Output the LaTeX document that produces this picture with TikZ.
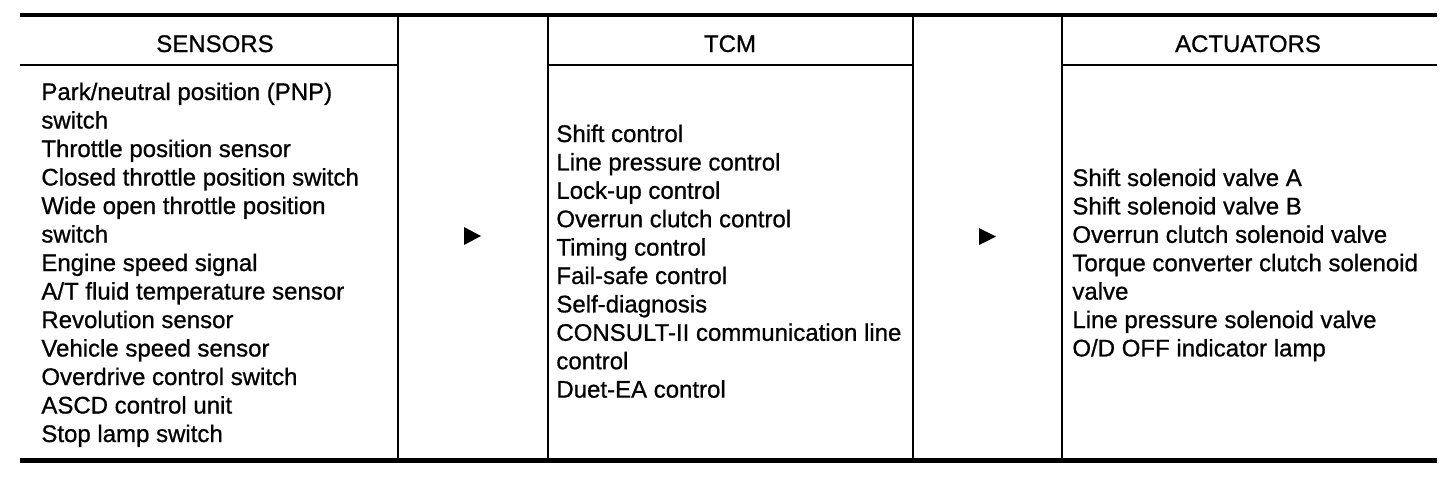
\documentclass[tikz,border=0pt]{standalone}
\usepackage{fontspec}
\setmainfont{Liberation Sans}
\newfontfamily\scanfont[FakeBold=0.8]{Liberation Sans}
\begin{document}
\begin{tikzpicture}[x=0.5pt,y=-0.5pt,
  heavyrule/.style={line width=2pt},
  bottomrule/.style={line width=2.5pt},
  thinrule/.style={line width=1.4pt},
  txt/.style={anchor=base west,inner sep=0pt,font=\scanfont\fontsize{12}{14.2}\selectfont},
  hdr/.style={anchor=base,inner sep=0pt,font=\scanfont\fontsize{12}{14.2}\selectfont},
  flowtri/.style={fill=black}]
\useasboundingbox (0,0) rectangle (1456,478);
% rules
\draw[heavyrule] (20,15) -- (1437,15);
\draw[bottomrule] (20,460) -- (1437,460);
\draw[thinrule] (20,65) -- (398,65) (548,65) -- (913,65) (1062,65) -- (1437,65);
\foreach \x in {398,548,913,1062} \draw[thinrule] (\x,15) -- (\x,460);
% headers
\node[hdr] (hsens) at (215,52) {SENSORS};
\node[hdr] (htcm) at (730,52) {TCM};
\node[hdr] (hact) at (1248,52) {ACTUATORS};
% sensors
\foreach \t [count=\i from 0] in {{Park/neutral position (PNP)},{switch},{Throttle position sensor},{Closed throttle position switch},{Wide open throttle position},{switch},{Engine speed signal},{A/T fluid temperature sensor},{Revolution sensor},{Vehicle speed sensor},{Overdrive control switch},{ASCD control unit},{Stop lamp switch}}
  \node[txt] (s\i) at (41,{100+28.5*\i}) {\t};
% TCM
\foreach \t [count=\i from 0] in {{Shift control},{Line pressure control},{Lock-up control},{Overrun clutch control},{Timing control},{Fail-safe control},{Self-diagnosis},{CONSULT-II communication line},{control},{Duet-EA control}}
  \node[txt] (t\i) at (556,{142+28.4*\i}) {\t};
% actuators
\foreach \t [count=\i from 0] in {{Shift solenoid valve A},{Shift solenoid valve B},{Overrun clutch solenoid valve},{Torque converter clutch solenoid},{valve},{Line pressure solenoid valve},{O/D OFF indicator lamp}}
  \node[txt] (a\i) at (1072,{186+28.4*\i}) {\t};
% arrows
\fill[flowtri] (464,227) -- (481,236) -- (464,245) -- cycle;
\fill[flowtri] (979,228) -- (996,236.5) -- (979,245) -- cycle;
\end{tikzpicture}
\end{document}
